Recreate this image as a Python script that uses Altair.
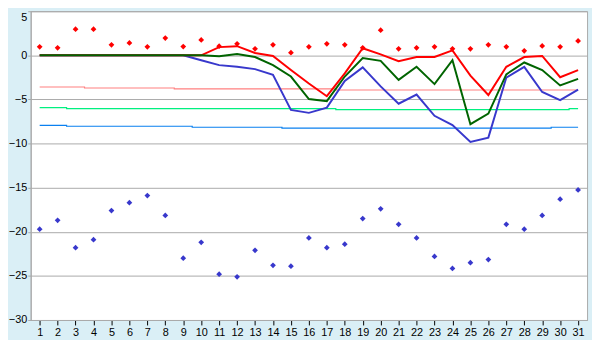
import altair as alt
import pandas as pd

days = list(range(1, 32))

red_line = [0, 0, 0, 0, 0, 0, 0, 0, 0, 0, 0.93, 1.04, 0.26, -0.07, -1.67, -3.2, -4.63, -2.04, 0.81, 0.11,
            -0.67, -0.19, -0.19, 0.56, -2.3, -4.5, -1.3, -0.19, -0.07, -2.48, -1.67]
green_line = [0, 0, 0, 0, 0, 0, 0, 0, 0, 0, -0.11, 0.15, -0.19, -1.11, -2.4, -4.96, -5.19, -2.4, -0.3, -0.63,
              -2.78, -1.3, -3.26, -0.56, -7.8, -6.6, -2.15, -0.81, -1.67, -3.41, -2.67]
blue_line = [0, 0, 0, 0, 0, 0, 0, 0, 0, -0.56, -1.11, -1.3, -1.56, -2.22, -6.19, -6.52, -5.93, -2.89, -1.37, -3.52,
             -5.48, -4.44, -6.85, -7.9, -9.81, -9.33, -2.52, -1.3, -4.15, -5.07, -3.89]
red_points = [0.96, 0.85, 2.96, 2.96, 1.19, 1.4, 0.96, 1.96, 1.0, 1.74, 1.04, 1.3, 0.74, 1.19, 0.3, 0.96,
              1.3, 1.19, 0.85, 2.85, 0.74, 0.85, 0.96, 0.74, 0.74, 1.19, 0.96, 0.52, 1.07, 0.96, 1.63]
blue_points = [-19.7, -18.7, -21.8, -20.9, -17.6, -16.7, -15.9, -18.15, -23.0, -21.2, -24.8, -25.1, -22.1,
               -23.8, -23.9, -20.7, -21.8, -21.4, -18.5, -17.4, -19.15, -20.7, -22.8, -24.15, -23.5, -23.15,
               -19.15, -19.7, -18.15, -16.3, -15.25]
pink_step = [-3.59] * 3 + [-3.7] * 5 + [-3.81] * 9 + [-3.93] * 14
lime_step = [-5.93] * 2 + [-6.04] * 15 + [-6.15] * 13 + [-6.04]
azure_step = [-7.93] * 2 + [-8.04] * 7 + [-8.15] * 5 + [-8.26] * 15 + [-8.15] * 2

y_ticks = [5, 0, -5, -10, -15, -20, -25, -30]


def frame(vals):
    return pd.DataFrame({"day": days, "v": vals})


xenc = alt.X("day:O", scale=alt.Scale(type="point", padding=0.5),
             axis=alt.Axis(title=None, labelAngle=0, tickColor="#000000", tickSize=5,
                           domainColor="#AAAAAA", grid=False, labelPadding=2))
yenc = alt.Y("v:Q", scale=alt.Scale(domain=[-30, 5], nice=False, zero=False),
             axis=alt.Axis(title=None, values=y_ticks, grid=True, gridColor="#AAAAAA",
                           tickColor="#AAAAAA", tickSize=3, domainColor="#AAAAAA",
                           labelPadding=1,
                           labelBaseline=alt.expr("datum.value == 5 ? 'top' : 'middle'")))


def line(vals, color, width=2, interp="linear"):
    return alt.Chart(frame(vals)).mark_line(color=color, strokeWidth=width, interpolate=interp).encode(
        x=xenc, y=yenc)


def pts(vals, color):
    return alt.Chart(frame(vals)).mark_point(shape="diamond", filled=True, size=34, color=color,
                                             opacity=1).encode(x=xenc, y=yenc)


chart = alt.layer(
    line(pink_step, "#FF8080", 1.2, "step"),
    line(lime_step, "#00F080", 1.2, "step"),
    line(azure_step, "#0A80F0", 1.2, "step"),
    line(blue_line, "#3838CC"),
    line(red_line, "#FF0000"),
    line(green_line, "#006400"),
    pts(red_points, "#FF0000"),
    pts(blue_points, "#3838CC"),
).properties(
    width=592, height=332,
    autosize=alt.AutoSizeParams(type="fit", contains="padding"),
    padding={"left": 0, "top": 0, "right": 5, "bottom": 0},
    background="#DAEFF6",
).configure_view(
    fill="#FFFFFF", stroke="#AAAAAA", strokeWidth=1
).configure_axis(
    labelFont="Liberation Sans", labelFontSize=11, labelColor="#000000"
)

chart.save("out.html", embed_options={"renderer": "svg", "actions": False})
